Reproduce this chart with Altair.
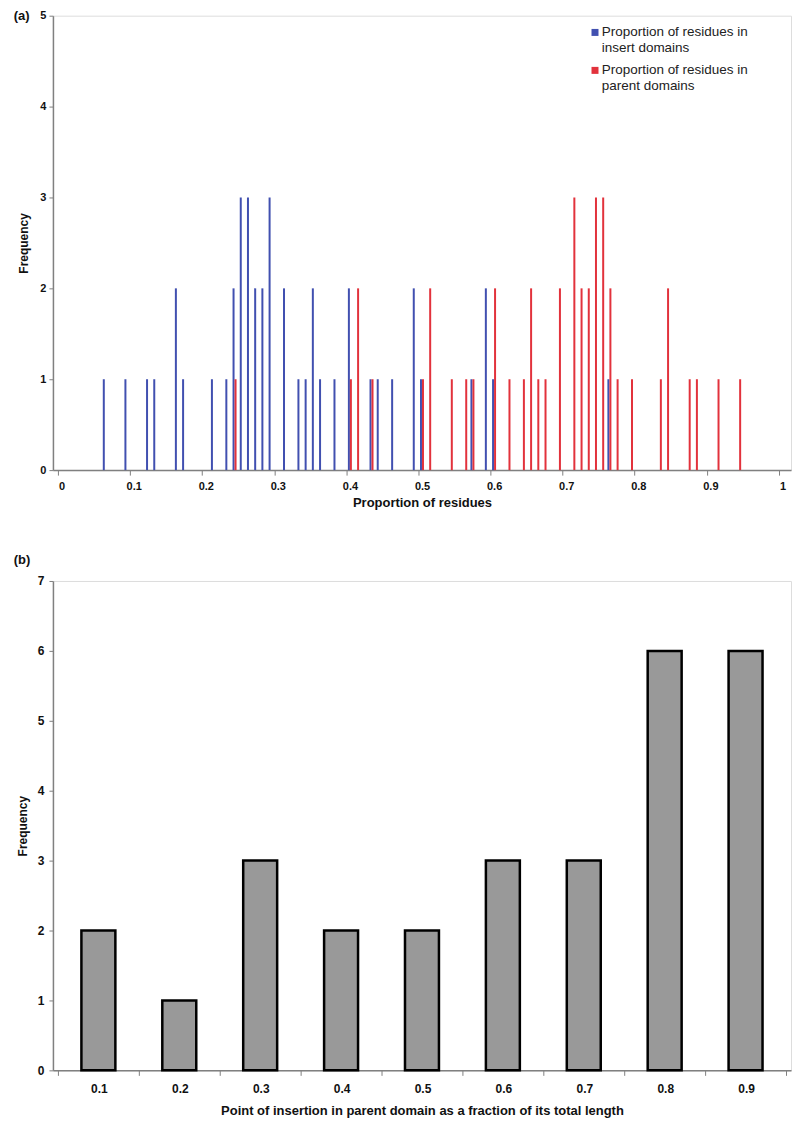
import altair as alt
import pandas as pd

# ---- Panel (a) data ----
insert_props = [0.06, 0.09, 0.12, 0.13, 0.16, 0.17, 0.21, 0.23, 0.24, 0.25, 0.26, 0.27, 0.28, 0.29,
                0.31, 0.33, 0.34, 0.35, 0.36, 0.38, 0.40, 0.43, 0.44, 0.46, 0.49, 0.50, 0.57, 0.59,
                0.60, 0.76]
insert_freq = [1, 1, 1, 1, 2, 1, 1, 1, 2, 3, 3, 2, 2, 3,
               2, 1, 1, 2, 1, 1, 2, 1, 1, 1, 2, 1, 1, 2,
               1, 1]
parent_props = [0.24, 0.40, 0.41, 0.43, 0.50, 0.51, 0.54, 0.56, 0.57, 0.60, 0.62, 0.64, 0.65, 0.66,
                0.67, 0.69, 0.71, 0.72, 0.73, 0.74, 0.75, 0.76, 0.77, 0.79, 0.83, 0.84, 0.87, 0.88,
                0.91, 0.94]
parent_freq = [1, 1, 2, 1, 1, 2, 1, 1, 1, 2, 1, 1, 2, 1,
               1, 2, 3, 2, 2, 3, 3, 2, 1, 1, 1, 2, 1, 1,
               1, 1]
series_names = ["Proportion of residues in insert domains",
                "Proportion of residues in parent domains"]
series_colors = ["#4150B0", "#E2323C"]

# ---- Panel (b) data ----
insertion_points = [0.1, 0.2, 0.3, 0.4, 0.5, 0.6, 0.7, 0.8, 0.9]
insertion_freq = [2, 1, 3, 2, 2, 3, 3, 6, 6]

FONT = "Liberation Sans"
AXIS_GREY = "#808080"

df_a = pd.DataFrame({
    "prop": insert_props + parent_props,
    "freq": insert_freq + parent_freq,
    "series": [series_names[0]] * len(insert_props) + [series_names[1]] * len(parent_props),
})
df_b = pd.DataFrame({"point": insertion_points, "freq": insertion_freq})

W = 739

# category-boundary ticks for panel (a) (101 categories 0.00..1.00)
x_ticks_a = [round(0.1 * j - 0.005, 3) for j in range(11)]

axis_common = dict(domainColor=AXIS_GREY, tickColor=AXIS_GREY, domainWidth=1.5, tickWidth=1,
                   grid=False, labelFont=FONT, labelFontWeight="bold", labelColor="#111",
                   titleFont=FONT, titleFontWeight="bold", titleColor="#111")

x_a = alt.X("prop:Q",
            scale=alt.Scale(domain=[-0.005, 1.005], nice=False, zero=False),
            axis=alt.Axis(values=x_ticks_a,
                          labelExpr="toString(round((datum.value + 0.005) * 10) / 10)",
                          labelOffset=3.66, labelFlush=False, labelFontSize=11,
                          tickSize=5, labelPadding=5, title="Proportion of residues",
                          titleFontSize=13, titlePadding=5, **axis_common))
y_a = alt.Y("freq:Q",
            scale=alt.Scale(domain=[0, 5], nice=False),
            axis=alt.Axis(values=[0, 1, 2, 3, 4, 5], format="d", labelFontSize=11,
                          tickSize=4, labelPadding=3, title="Frequency",
                          titleFontSize=12, titlePadding=9, **axis_common))
color_a = alt.Color("series:N",
                    scale=alt.Scale(domain=series_names, range=series_colors),
                    legend=alt.Legend(title=None, orient="none", legendX=536, legendY=10,
                                      symbolType="square", symbolSize=49, symbolStrokeWidth=0,
                                      labelFont=FONT, labelFontSize=13.5, labelFontWeight="normal",
                                      labelColor="#222", labelLimit=400, labelOffset=0,
                                      labelExpr="['Proportion of residues in', replace(datum.label, 'Proportion of residues in ', '')]",
                                      rowPadding=8, padding=0))

base_a = alt.Chart(df_a).encode(x=x_a, y=y_a, color=color_a)
blue = base_a.transform_filter(alt.datum.series == series_names[0]).mark_bar(
    width=2, xOffset=-1, orient="vertical")
red = base_a.transform_filter(alt.datum.series == series_names[1]).mark_bar(
    width=2, xOffset=1, orient="vertical")
label_a = alt.Chart(pd.DataFrame({"t": ["(a)"]})).mark_text(
    align="left", baseline="middle", fontWeight="bold", fontSize=13, font=FONT,
    color="#111", x=-39.3, y=0).encode(text="t:N")

top = alt.layer(blue, red, label_a).properties(width=W, height=455)

# ---- Panel (b) ----
x_ticks_b = [round(0.05 + 0.1 * j, 2) for j in range(10)]
x_b = alt.X("point:Q",
            scale=alt.Scale(domain=[0.05, 0.95], nice=False, zero=False),
            axis=alt.Axis(values=x_ticks_b,
                          labelExpr="datum.value > 0.9 ? '' : toString(round((datum.value + 0.05) * 10) / 10)",
                          labelOffset=41.05, labelFlush=False, labelFontSize=12,
                          tickSize=5, labelPadding=8,
                          title="Point of insertion in parent domain as a fraction of its total length",
                          titleFontSize=13, titlePadding=10, **axis_common))
y_b = alt.Y("freq:Q",
            scale=alt.Scale(domain=[0, 7], nice=False),
            axis=alt.Axis(values=list(range(8)), format="d", labelFontSize=12,
                          tickSize=4, labelPadding=5, title="Frequency",
                          titleFontSize=12, titlePadding=8, **axis_common))
bars_b = alt.Chart(df_b).mark_bar(width=34, fill="#999999", stroke="#000000", strokeWidth=2.5,
                                  orient="vertical").encode(x=x_b, y=y_b)
label_b = alt.Chart(pd.DataFrame({"t": ["(b)"]})).mark_text(
    align="left", baseline="middle", fontWeight="bold", fontSize=13, font=FONT,
    color="#111", x=-39.3, y=-20.7).encode(text="t:N")

bottom = alt.layer(bars_b, label_b).properties(width=W, height=490)

chart = alt.vconcat(top, bottom, spacing=43).properties(
    padding={"top": 0, "left": 5, "right": 0, "bottom": 0}
).configure_view(stroke=AXIS_GREY, strokeWidth=1.5).configure(background="white")

chart.save("out.html", embed_options={"renderer": "svg", "actions": False})
